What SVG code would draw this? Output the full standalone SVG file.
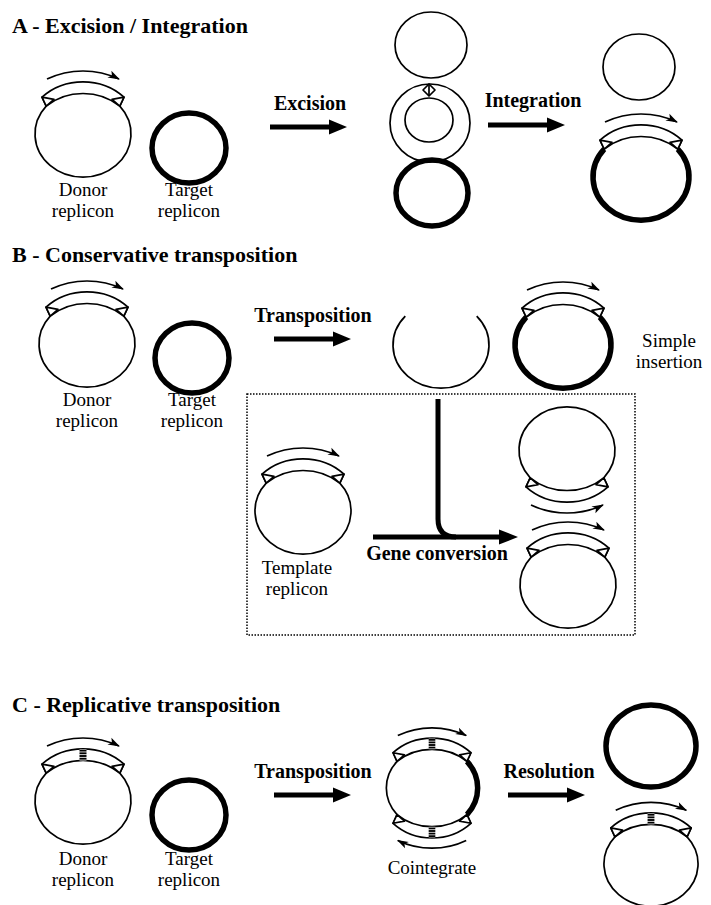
<svg xmlns="http://www.w3.org/2000/svg" width="711" height="905" viewBox="0 0 711 905">
<defs>
<style>
.t{font-family:"Liberation Serif","Times New Roman",serif;fill:#000}
.title{font-size:22px;font-weight:bold}
.lb{font-size:20px;font-weight:bold;text-anchor:middle}
.lr{font-size:19px;text-anchor:middle}
.thin{fill:none;stroke:#000;stroke-width:1.7;vector-effect:non-scaling-stroke}
.thick{fill:none;stroke:#000;stroke-width:5.5;vector-effect:non-scaling-stroke}
.band{fill:#fff;stroke:#000;stroke-width:1.7;stroke-linejoin:round;vector-effect:non-scaling-stroke}
.arr{fill:none;stroke:#000;stroke-width:1.7;vector-effect:non-scaling-stroke}
.big{fill:#000}
</style>
<marker id="ah" viewBox="-12 -6 14 12" refX="0" refY="0" markerWidth="14" markerHeight="12" markerUnits="userSpaceOnUse" orient="auto">
<path d="M1,0 L-11,-4.5 L-8,0 L-11,4 Z" fill="#000"/>
</marker>
<pattern id="hatch" patternUnits="userSpaceOnUse" width="8" height="3">
<rect width="8" height="3" fill="#000"/><rect y="2" width="8" height="0.9" fill="#fff"/>
</pattern>
<g id="elem">
<path class="band" d="M-41,-41 A57.9,57.9 0 0 1 41,-41 L36.8,-30.9 A55.1,55.1 0 0 0 -36.8,-30.9 Z"/>
<path class="band" d="M-41,-41 L-36.8,-30.9 L-29,-38.5 Z"/>
<path class="band" d="M41,-41 L36.8,-30.9 L29,-38.5 Z"/>
<path class="arr" d="M-36,-61 A76.5,76.5 0 0 1 36,-61" marker-end="url(#ah)"/>
</g>
<rect id="bar" x="-3.5" y="-57.5" width="7" height="13" fill="url(#hatch)"/>
</defs>
<rect width="711" height="905" fill="#fff"/>

<!-- Section A -->
<text class="t title" x="12" y="33">A - Excision / Integration</text>
<g id="donorA">
<g transform="translate(83,134) scale(1,0.9)">
<path class="thin" d="M36.8,-30.9 A48,48 0 1 1 -36.8,-30.9"/>
<use href="#elem"/>
</g>
<text class="t lr" x="83" y="196">Donor</text>
<text class="t lr" x="83" y="217">replicon</text>
</g>
<g id="targetA">
<ellipse class="thick" cx="189" cy="148" rx="37" ry="35"/>
<text class="t lr" x="189" y="196">Target</text>
<text class="t lr" x="189" y="217">replicon</text>
</g>
<g id="excisedA">
<ellipse class="thin" cx="431" cy="45" rx="36" ry="33"/>
</g>
<g id="circleA">
<ellipse class="thin" cx="430" cy="123" rx="40" ry="39"/>
<ellipse class="thin" cx="429" cy="120" rx="24" ry="22"/>
<polygon class="band" points="423,90 429,84 435,90 429,96"/>
<line class="thin" x1="429" y1="84" x2="429" y2="96"/>
</g>
<g id="targetA2">
<ellipse class="thick" cx="432" cy="193" rx="36" ry="33"/>
</g>
<g id="donorA2">
<ellipse class="thin" cx="639" cy="67" rx="36" ry="33"/>
</g>
<g id="insertA">
<g transform="translate(641,177) scale(1,0.9)">
<path class="thick" d="M36.8,-30.9 A48,48 0 1 1 -36.8,-30.9"/>
<use href="#elem"/>
</g>
</g>
<text class="t lb" x="310" y="110">Excision</text>
<text class="t lb" x="533" y="107">Integration</text>

<!-- Section B -->
<text class="t title" x="12" y="262">B - Conservative transposition</text>
<g id="donorB">
<g transform="translate(87,344) scale(1,0.9)">
<path class="thin" d="M36.8,-30.9 A48,48 0 1 1 -36.8,-30.9"/>
<use href="#elem"/>
</g>
<text class="t lr" x="87" y="406">Donor</text>
<text class="t lr" x="87" y="427">replicon</text>
</g>
<g id="targetB">
<ellipse class="thick" cx="192" cy="358" rx="37" ry="35"/>
<text class="t lr" x="192" y="406">Target</text>
<text class="t lr" x="192" y="427">replicon</text>
</g>
<g id="brokenB">
<g transform="translate(441,345) scale(1,0.9)">
<path class="thin" d="M35.7,-32.1 A48,48 0 1 1 -35.7,-32.1"/>
</g>
</g>
<g id="insertB">
<g transform="translate(563,345) scale(1,0.9)">
<path class="thick" d="M36.8,-30.9 A48,48 0 1 1 -36.8,-30.9"/>
<use href="#elem"/>
</g>
<text class="t lr" x="669" y="347">Simple</text>
<text class="t lr" x="669" y="368">insertion</text>
</g>
<text class="t lb" x="313" y="322">Transposition</text>

<g id="geneBox">
<rect x="247" y="394" width="388" height="241" fill="none" stroke="#000" stroke-width="1.5" stroke-dasharray="1.5,1.5"/>
</g>
<g id="template">
<g transform="translate(303,511) scale(1,0.9)">
<path class="thin" d="M36.8,-30.9 A48,48 0 1 1 -36.8,-30.9"/>
<use href="#elem"/>
</g>
<text class="t lr" x="297" y="574">Template</text>
<text class="t lr" x="297" y="595">replicon</text>
</g>
<g id="convUpper">
<g transform="translate(567,450) scale(1,-0.9)">
<path class="thin" d="M36.8,-30.9 A48,48 0 1 1 -36.8,-30.9"/>
<use href="#elem"/>
</g>
</g>
<g id="convLower">
<g transform="translate(568,585) scale(1,0.9)">
<path class="thin" d="M36.8,-30.9 A48,48 0 1 1 -36.8,-30.9"/>
<use href="#elem"/>
</g>
</g>
<text class="t lb" x="437" y="560">Gene conversion</text>

<!-- Section C -->
<text class="t title" x="12" y="712">C - Replicative transposition</text>
<g id="donorC">
<g transform="translate(83,801) scale(1,0.9)">
<path class="thin" d="M36.8,-30.9 A48,48 0 1 1 -36.8,-30.9"/>
<use href="#elem"/>
<use href="#bar"/>
</g>
<text class="t lr" x="83" y="865">Donor</text>
<text class="t lr" x="83" y="886">replicon</text>
</g>
<g id="targetC">
<ellipse class="thick" cx="189" cy="815" rx="37" ry="35"/>
<text class="t lr" x="189" y="865">Target</text>
<text class="t lr" x="189" y="886">replicon</text>
</g>
<g id="cointegrate">
<g transform="translate(432,788) scale(0.95,0.86)">
<path class="thick" d="M36.8,-30.9 A48,48 0 0 1 36.8,30.9"/>
<path class="thin" d="M-36.8,30.9 A48,48 0 0 1 -36.8,-30.9"/>
<use href="#elem"/>
<use href="#bar"/>
<g transform="rotate(180)">
<use href="#elem"/>
<use href="#bar"/>
</g>
</g>
<text class="t lr" x="432" y="874">Cointegrate</text>
</g>
<g id="resTarget">
<ellipse class="thick" cx="651" cy="746" rx="45" ry="41"/>
</g>
<g id="resDonor">
<g transform="translate(651,864) scale(0.98,0.88)">
<path class="thin" d="M36.8,-30.9 A48,48 0 1 1 -36.8,-30.9"/>
<use href="#elem"/>
<use href="#bar"/>
</g>
</g>
<text class="t lb" x="313" y="778">Transposition</text>
<text class="t lb" x="549" y="778">Resolution</text>

<!-- Connectors -->
<g id="connectors">
<path class="big" d="M270,124.4 H329 V119.5 L347,127 L329,134.5 V129.6 H270 Z"/>
<path class="big" d="M488,122.4 H547 V117.5 L565,125 L547,132.5 V127.6 H488 Z"/>
<path class="big" d="M274,336.4 H333 V331.5 L351,339 L333,346.5 V341.6 H274 Z"/>
<path d="M438,399 V519 Q438,537 456,537" fill="none" stroke="#000" stroke-width="5"/>
<path class="big" d="M373,534.4 H499 V529.5 L518,537 L499,544.5 V539.6 H373 Z"/>
<path class="big" d="M274,792.4 H333 V787.5 L351,795 L333,802.5 V797.6 H274 Z"/>
<path class="big" d="M508,792.4 H567 V787.5 L585,795 L567,802.5 V797.6 H508 Z"/>
</g>
</svg>
